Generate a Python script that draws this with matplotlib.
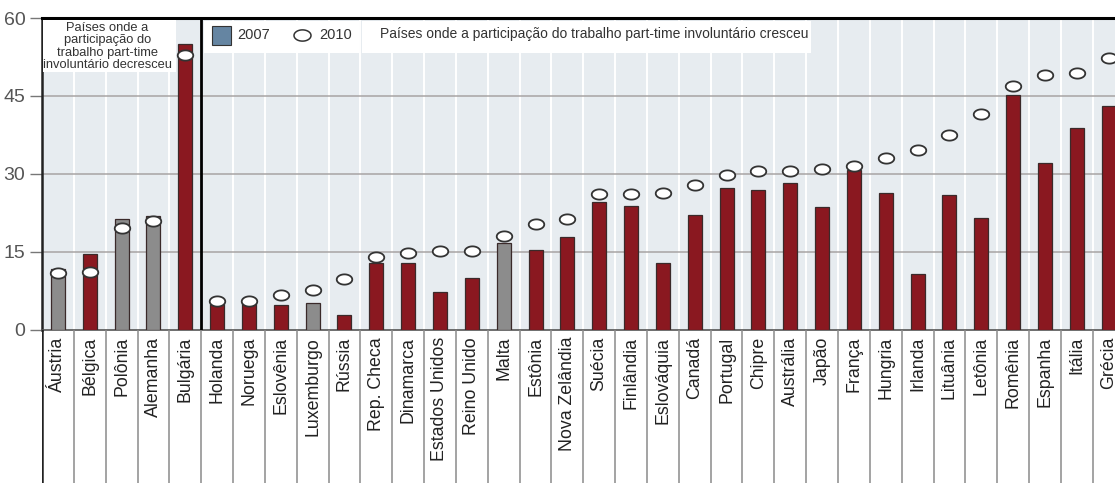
import matplotlib.pyplot as plt
from matplotlib.path import Path
from matplotlib.patches import Rectangle
import numpy as np

plt.rcParams['font.family'] = ['Liberation Sans', 'DejaVu Sans']

countries = ['Áustria', 'Bélgica', 'Polônia', 'Alemanha', 'Bulgária',
             'Holanda', 'Noruega', 'Eslovênia', 'Luxemburgo', 'Rússia',
             'Rep. Checa', 'Dinamarca', 'Estados Unidos', 'Reino Unido',
             'Malta', 'Estônia', 'Nova Zelândia', 'Suécia', 'Finlândia',
             'Eslováquia', 'Canadá', 'Portugal', 'Chipre', 'Austrália',
             'Japão', 'França', 'Hungria', 'Irlanda', 'Lituânia', 'Letônia',
             'Romênia', 'Espanha', 'Itália', 'Grécia']
v2007 = [11.7, 14.6, 21.3, 21.9, 55.0, 5.0, 5.2, 4.8, 5.2, 2.9,
         12.9, 12.9, 7.3, 10.0, 16.7, 15.4, 17.8, 24.6, 23.9, 12.9,
         22.1, 27.3, 27.0, 28.2, 23.7, 30.8, 26.4, 10.8, 26.0, 21.5,
         45.2, 32.1, 38.8, 43.1]
v2010 = [11.0, 11.1, 19.6, 21.0, 52.9, 5.6, 5.6, 6.7, 7.7, 9.8,
         14.0, 14.8, 15.2, 15.2, 18.1, 20.4, 21.4, 26.2, 26.2, 26.4,
         27.9, 29.8, 30.6, 30.6, 31.0, 31.5, 33.0, 34.6, 37.5, 41.5,
         46.9, 49.0, 49.4, 52.3]
gray_bars = ['Áustria', 'Polônia', 'Alemanha', 'Luxemburgo', 'Malta']
yticks = [0, 15, 30, 45, 60]

RED = '#8a1820'
GRAY = '#8c8c8c'
BG = '#e7ecf0'

# flattened ellipse marker for 2010
t = np.linspace(0, 2 * np.pi, 60)
ellipse = Path(np.column_stack([np.cos(t), 0.66 * np.sin(t)]), closed=True)

W, H = 1115, 483
fig = plt.figure(figsize=(W / 100, H / 100), dpi=100)
left = 42 / W
bottom = (H - 330) / H
top = 18 / H
ax = fig.add_axes([left, bottom, 1 - left, 1 - bottom - top])
ax2 = fig.add_axes([left, 0, 1 - left, bottom])

x = np.arange(len(countries))
xlim = (-0.5, 33.2)

ax.set_facecolor(BG)
colors = [GRAY if c in gray_bars else RED for c in countries]
ax.bar(x, v2007, width=0.44, color=colors, edgecolor='#3a2a2a', linewidth=0.9, zorder=3)
ax.scatter(x, v2010, marker=ellipse, s=125, facecolor='white', edgecolor='#333333',
           linewidth=1.3, zorder=5)

for b in x[:-1] + 0.5:
    ax.axvline(b, color='white', lw=1.4, zorder=1)
for yv in [15, 30, 45]:
    ax.axhline(yv, color='#a8a4a4', lw=1.1, zorder=2)
ax.axvline(4.5, color='black', lw=2, zorder=6)

ax.set_xlim(*xlim)
ax.set_ylim(0, 60)
ax.set_yticks(yticks)
ax.set_yticklabels([str(v) for v in yticks], fontsize=14, color='#555555')
ax.tick_params(axis='y', length=9, width=1, color='#777777', pad=3)
ax.set_xticks([])
ax.spines['right'].set_visible(False)
ax.spines['top'].set_linewidth(2.2)
ax.spines['top'].set_color('black')
ax.spines['left'].set_linewidth(1.8)
ax.spines['left'].set_color('#222222')
ax.spines['bottom'].set_color('#555555')
ax.spines['bottom'].set_linewidth(1.2)

# annotation for left group
ax.add_patch(Rectangle((-0.48, 49.6), 4.2, 10.0, facecolor='white', edgecolor='none', zorder=4))
ax.text(1.55, 59.2, 'Países onde a\nparticipação do\ntrabalho part-time\ninvoluntário decresceu',
        ha='center', va='top', fontsize=9.3, color='#333333', linespacing=1.02, zorder=6)

# legend box
ax.add_patch(Rectangle((4.6, 53.3), 4.85, 6.2, facecolor='white', edgecolor='none', zorder=4))
ax.add_patch(Rectangle((4.83, 54.9), 0.6, 3.6, facecolor='#6585a2', edgecolor='#333333',
                       lw=0.8, zorder=6))
ax.text(5.62, 56.7, '2007', ha='left', va='center', fontsize=10.5, color='#333333', zorder=6)
ax.scatter([7.68], [56.8], marker=ellipse, s=150, facecolor='white', edgecolor='#333333',
           linewidth=1.1, zorder=6)
ax.text(8.2, 56.7, '2010', ha='left', va='center', fontsize=10.5, color='#333333', zorder=6)
ax.add_patch(Rectangle((9.55, 53.3), 14.1, 6.2, facecolor='white', edgecolor='none', zorder=4))
ax.text(10.1, 56.9, 'Países onde a participação do trabalho part-time involuntário cresceu',
        ha='left', va='center', fontsize=10, color='#333333', zorder=6)

# category label strip
ax2.set_xlim(*xlim)
ax2.set_ylim(0, 1)
ax2.axis('off')
for b in x[:-1] + 0.5:
    ax2.axvline(b, color='#8a8a8a', lw=1.1)
ax2.axvline(-0.5, color='#222222', lw=1.8)
for xi, name in zip(x, countries):
    ax2.text(xi, 0.955, name, rotation=90, ha='center', va='top', fontsize=12.8, color='#222222')

fig.savefig('out.png', dpi=100)
